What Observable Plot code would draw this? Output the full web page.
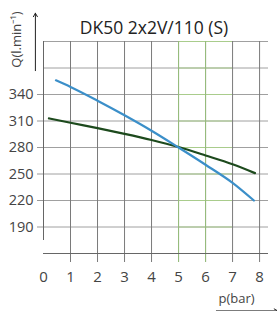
<!DOCTYPE html>
<html>
<head>
<meta charset="utf-8">
<script src="https://cdn.jsdelivr.net/npm/d3@7"></script>
<script src="https://cdn.jsdelivr.net/npm/@observablehq/plot@0.6"></script>
<style>
  html, body { margin: 0; padding: 0; background: #fff; }
</style>
</head>
<body>
<div id="chart"></div>
<script>
const chartTitle = "DK50 2x2V/110 (S)";
const yLabel = "Q(l.min⁻¹)";
const xLabel = "p(bar)";

const xTicks = [0, 1, 2, 3, 4, 5, 6, 7, 8];
const yTicks = [190, 220, 250, 280, 310, 340];
const gridY = [190, 220, 250, 280, 310, 340, 370, 400];
const highlightX = [5, 6];
const highlightRange = [5, 7];

const pressureBlue = [0.46, 1, 2, 3, 4, 5, 6, 7, 7.79];
const flowBlue = [356, 348.5, 333, 316.5, 299, 280, 260.5, 240, 220];
const pressureGreen = [0.2, 1, 2, 3, 4, 5, 6, 7, 7.83];
const flowGreen = [313, 308, 302, 295.5, 288.5, 280.5, 271, 261, 251];

const xDomain = [0, 8.33];
const yDomain = [160, 400];

const blue = pressureBlue.map((p, i) => ({p, q: flowBlue[i]}));
const green = pressureGreen.map((p, i) => ({p, q: flowGreen[i]}));

const chart = Plot.plot({
  width: 277,
  height: 311,
  marginLeft: 43,
  marginRight: 9,
  marginTop: 41,
  marginBottom: 58,
  x: {domain: xDomain},
  y: {domain: yDomain},
  style: {fontFamily: "Open Sans, sans-serif", background: "#fff", overflow: "visible"},
  marks: [
    Plot.ruleY(gridY, {x1: xDomain[0], x2: xDomain[1], stroke: "#a0a0a0", strokeWidth: 1}),
    Plot.ruleY(gridY, {x1: highlightRange[0], x2: highlightRange[1], stroke: "#a9cc8c", strokeWidth: 1}),
    Plot.ruleX(xTicks.filter(d => d > 0), {y1: yDomain[1], y2: yDomain[0], insetBottom: -9, stroke: "#7a7a7a", strokeWidth: 1}),
    Plot.ruleX(highlightX, {y1: yDomain[1], y2: yDomain[0], insetBottom: -9, stroke: "#98bf7c", strokeWidth: 1}),
    Plot.ruleX([xDomain[0]], {y1: yDomain[0], y2: yDomain[1], insetTop: -13, stroke: "#666", strokeWidth: 1}),
    Plot.ruleY([yDomain[0]], {x1: xDomain[0], x2: xDomain[1], stroke: "#666", strokeWidth: 1}),
    Plot.line(green, {x: "p", y: "q", curve: "monotone-x", stroke: "#1d4a1d", strokeWidth: 2.2}),
    Plot.line(blue, {x: "p", y: "q", curve: "monotone-x", stroke: "#3b8fc9", strokeWidth: 2.2}),
    Plot.axisY({ticks: yTicks, tickSize: 6, tickPadding: 4, label: null, fontSize: 14.5, stroke: "#999", color: "#444"}),
    Plot.axisX({ticks: xTicks, tickSize: 0, tickPadding: 18, label: null, fontSize: 15, color: "#444"}),
    Plot.text([chartTitle], {frameAnchor: "top", dx: -2, dy: -8, lineAnchor: "bottom", fontSize: 17.5, fill: "#222"}),
    Plot.text([yLabel], {frameAnchor: "top-left", dx: -23, dy: -2, rotate: -90, textAnchor: "middle", lineAnchor: "bottom", fontSize: 13, fill: "#444"}),
    Plot.text([xLabel], {frameAnchor: "bottom-right", dx: -32, dy: 49, textAnchor: "middle", lineAnchor: "bottom", fontSize: 13, fill: "#444"}),
    Plot.arrow([0], {x1: -0.3, x2: -0.3, y1: 367, y2: 432, stroke: "#222", strokeWidth: 1, headLength: 6}),
    Plot.arrow([0], {x1: 6.4, x2: 8.67, y1: 95, y2: 95, stroke: "#222", strokeWidth: 1, headLength: 6})
  ]
});
document.getElementById("chart").appendChild(chart);
</script>
</body>
</html>
